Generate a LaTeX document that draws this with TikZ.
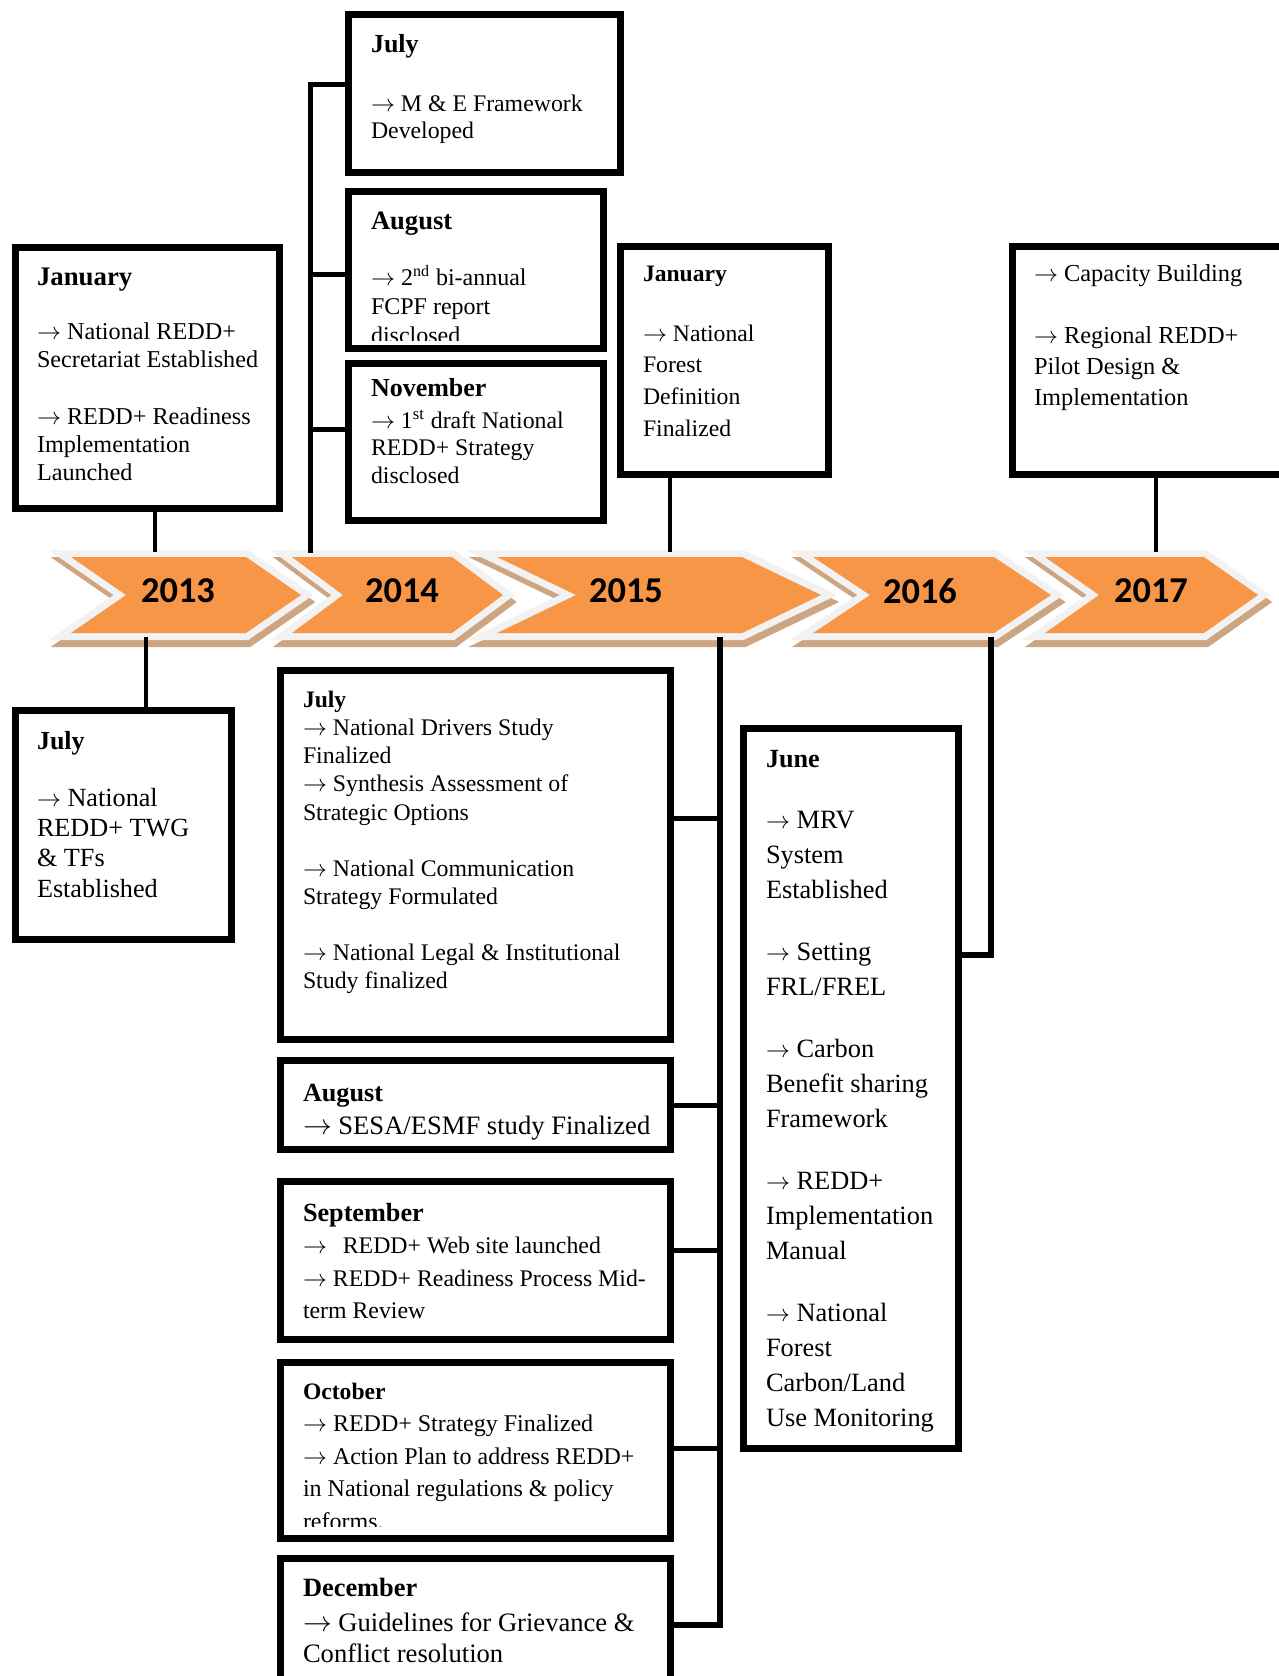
\documentclass[tikz,border=0pt]{standalone}
\usepackage{fontspec}
\setmainfont{Liberation Serif}
\newfontfamily\yearfont{Carlito}
\definecolor{chevor}{RGB}{247,150,70}
\definecolor{chevgr}{RGB}{242,242,242}
\definecolor{chevsh}{RGB}{205,165,130}
\newcommand\myar{$\rightarrow$\ }
\newcommand\mytitle[2]{{\bfseries\fontsize{#1}{14}\selectfont #2}}
\newcommand\mychev[3]{%
  \filldraw[chevsh, line width=7pt, miter limit=10, shift={(2,7)}] (#1,557) -- (#2,557) -- ({#2+#3},595) -- (#2,633) -- (#1,633) -- ({#1+#3},595) -- cycle;
  \draw[chevgr, line width=7pt, miter limit=10] (#1,557) -- (#2,557) -- ({#2+#3},595) -- (#2,633) -- (#1,633) -- ({#1+#3},595) -- cycle;
  \fill[chevor] (#1,557) -- (#2,557) -- ({#2+#3},595) -- (#2,633) -- (#1,633) -- ({#1+#3},595) -- cycle;
}
\tikzset{
  box/.style={draw=black, line width=3.5pt, inner sep=0pt, outer sep=0pt, anchor=north west},
  txt/.style={anchor=north west, inner sep=0pt, outer sep=0pt, align=left},
  conn/.style={line width=2pt},
  brk/.style={line width=2.5pt},
  bigbrk/.style={line width=3pt},
  tick/.style={line width=2.5pt},
  yr/.style={font=\yearfont\bfseries\fontsize{18.2}{20}\selectfont, inner sep=0pt},
}
\begin{document}
\begin{tikzpicture}[x=0.5pt, y=-0.5pt]
\useasboundingbox (0,0) rectangle (1279,1676);
\clip (0,0) rectangle (1279,1676);
\fill[white] (0,0) rectangle (1279,1676);

% chevrons
\mychev{71}{246}{55}
\mychev{292}{452}{51}
\mychev{497}{742}{79}
\mychev{813}{994}{57}
\mychev{1045}{1204}{54}
\node[yr] (Y13) at (178,591) {2013};
\node[yr] (Y14) at (402,591) {2014};
\node[yr] (Y15) at (626,591) {2015};
\node[yr] (Y16) at (920,591) {2016};
\node[yr] (Y17) at (1151,591) {2017};

% boxes
\node[box, minimum width=132pt, minimum height=130.5pt] (A) at (15.5,247.5) {};
\node[box, minimum width=136pt, minimum height=79pt] (B) at (348.5,14.5) {};
\node[box, minimum width=127.5pt, minimum height=78.5pt] (C) at (348.5,191.5) {};
\node[box, minimum width=127.5pt, minimum height=78.5pt] (D) at (348.5,363.5) {};
\node[box, minimum width=104pt, minimum height=114pt] (E) at (620.5,246.5) {};
\node[box, minimum width=143.75pt, minimum height=114pt] (F) at (1012.5,246.5) {};
\node[box, minimum width=195pt, minimum height=184.5pt] (G) at (280.5,670.5) {};
\node[box, minimum width=195pt, minimum height=44.5pt] (H) at (280.5,1060.5) {};
\node[box, minimum width=195pt, minimum height=79pt] (I) at (280.5,1181.5) {};
\node[box, minimum width=195pt, minimum height=88pt] (J) at (280.5,1362.5) {};
\node[box, minimum width=195pt, minimum height=80.75pt] (K) at (280.5,1558.5) {};
\node[box, minimum width=107.5pt, minimum height=360pt] (L) at (743.5,728.5) {};
\node[box, minimum width=108pt, minimum height=114.5pt] (M) at (15.5,710.5) {};

% texts
\node[txt, font=\fontsize{12.1}{14}\selectfont] (At) at (37,265) {\rule{0pt}{10pt}\mytitle{13.4}{January}\\[13pt]
 \myar National REDD+\\ Secretariat Established\\[14.5pt]
 \myar REDD+ Readiness\\ Implementation\\ Launched};
\node[txt, font=\fontsize{11.9}{13.5}\selectfont] (Bt) at (371,32) {\rule{0pt}{10pt}\mytitle{13}{July}\\[16pt]
 \myar M \& E Framework\\ Developed};
\begin{scope}
\clip (352,195) rectangle (600,340);
\node[txt, font=\fontsize{12}{14.5}\selectfont] (Ct) at (371,209) {\rule{0pt}{10pt}\mytitle{13.3}{August}\\[13.5pt]
 \myar 2\textsuperscript{nd} bi-annual\\ FCPF report\\ disclosed};
\end{scope}
\node[txt, font=\fontsize{11.9}{13.75}\selectfont] (Dt) at (371,376) {\rule{0pt}{10pt}\mytitle{13}{November}\\[2.25pt]
 \myar 1\textsuperscript{st} draft National\\ REDD+ Strategy\\ disclosed};
\node[txt, font=\fontsize{11.85}{15.85}\selectfont] (Et) at (643,261) {\rule{0pt}{10pt}\mytitle{11.8}{January}\\[14.15pt]
 \myar National\\ Forest\\ Definition\\ Finalized};
\node[txt, font=\fontsize{12.2}{15.5}\selectfont] (Ft) at (1034,261) {\rule{0pt}{10pt}\myar Capacity Building\\[15.5pt]
 \myar Regional REDD+\\ Pilot Design \&\\ Implementation};
\node[txt, font=\fontsize{11.9}{14.15}\selectfont] (Gt) at (303,687) {\rule{0pt}{10pt}\mytitle{11.8}{July}\\
 \myar National Drivers Study\\ Finalized\\ \myar Synthesis Assessment of\\ Strategic Options\\[13.85pt]
 \myar National Communication\\ Strategy Formulated\\[13.85pt]
 \myar National Legal \& Institutional\\ Study finalized};
\node[txt, font=\fontsize{13.3}{16.5}\selectfont] (Ht) at (303,1081) {\rule{0pt}{10pt}\mytitle{13.1}{August}\\
 \myar SESA/ESMF study Finalized};
\node[txt, font=\fontsize{11.9}{16.25}\selectfont] (It) at (303,1201) {\rule{0pt}{10pt}\mytitle{13.1}{September}\\
 $\rightarrow$\ \ \,REDD+ Web site launched\\ \myar REDD+ Readiness Process Mid-\\ term Review};
\begin{scope}
\clip (284,1366) rectangle (667,1526);
\node[txt, font=\fontsize{12}{16.3}\selectfont] (Jt) at (303,1379) {\rule{0pt}{10pt}\mytitle{11.8}{October}\\
 \myar REDD+ Strategy Finalized\\ \myar Action Plan to address REDD+\\ in National regulations \& policy\\ reforms.};
\end{scope}
\node[txt, font=\fontsize{13.3}{15.5}\selectfont] (Kt) at (303,1576) {\rule{0pt}{10pt}\mytitle{13.2}{December}\\[2pt]
 \myar Guidelines for Grievance \&\\ Conflict resolution};
\node[txt, font=\fontsize{13.2}{17.5}\selectfont] (Lt) at (766,747) {\rule{0pt}{10pt}\mytitle{13.1}{June}\\[13pt]
 \myar MRV\\ System\\ Established\\[13.5pt]
 \myar Setting\\ FRL/FREL\\[13.5pt]
 \myar Carbon\\ Benefit sharing\\ Framework\\[13.5pt]
 \myar REDD+\\ Implementation\\ Manual\\[13.5pt]
 \myar National\\ Forest\\ Carbon/Land\\ Use Monitoring};
\node[txt, font=\fontsize{13.1}{15.2}\selectfont] (Mt) at (37,729) {\rule{0pt}{10pt}\mytitle{13}{July}\\[13.3pt]
 \myar National\\ REDD+ TWG\\ \& TFs\\ Established};

% connector coordinates
\coordinate (c13t) at (155,552);
\coordinate (c14t) at (310,553);
\coordinate (c15t) at (670,552);
\coordinate (c17t) at (1156,552);
\coordinate (c13b) at (146,637);
\coordinate (c15b) at (720,637);
\coordinate (c16b) at (991,637);
\coordinate (tB) at (348.5,84);
\coordinate (tC) at (348.5,274);
\coordinate (tD) at (348.5,429);
\coordinate (kG) at (670.5,818);
\coordinate (kH) at (670.5,1105);
\coordinate (kI) at (670.5,1250);
\coordinate (kJ) at (670.5,1448);
\coordinate (kK) at (670.5,1625);
\coordinate (kL) at (958.5,955);

% connectors
\draw[conn] (A.south -| c13t) -- (c13t);
\draw[brk] (c14t) |- (tB);
\draw[brk] (c14t |- tC) -- (tC);
\draw[brk] (c14t |- tD) -- (tD);
\draw[conn] (E.south -| c15t) -- (c15t);
\draw[conn] (F.south -| c17t) -- (c17t);
\draw[conn] (c13b) -- (c13b |- M.north);
\draw[bigbrk] (c15b) |- (kK);
\draw[tick] (c15b |- kG) -- (kG);
\draw[tick] (c15b |- kH) -- (kH);
\draw[tick] (c15b |- kI) -- (kI);
\draw[tick] (c15b |- kJ) -- (kJ);
\draw[bigbrk] (c16b) |- (kL);
\end{tikzpicture}
\end{document}
